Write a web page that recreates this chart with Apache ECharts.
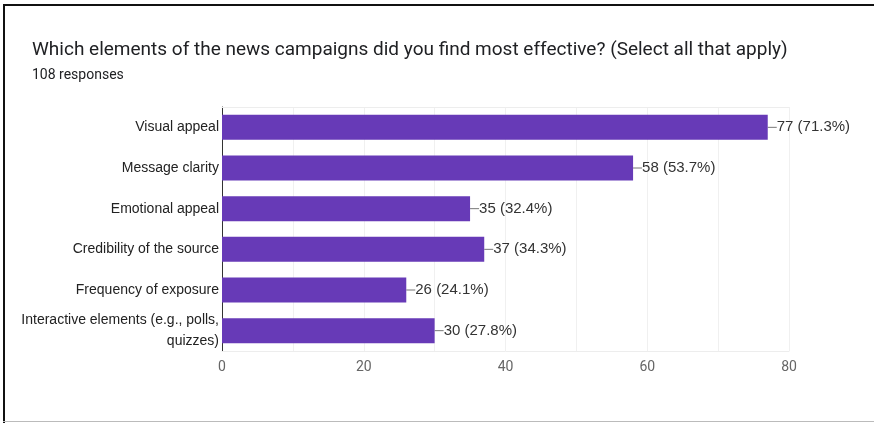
<!DOCTYPE html>
<html>
<head>
<meta charset="utf-8">
<style>
html,body{margin:0;padding:0;background:#fff;}
#chart{width:874px;height:423px;}
</style>
<script src="https://cdn.jsdelivr.net/npm/echarts@6/dist/echarts.min.js"></script>
</head>
<body>
<div id="chart"></div>
<script>
var categories = [
  "Visual appeal",
  "Message clarity",
  "Emotional appeal",
  "Credibility of the source",
  "Frequency of exposure",
  "Interactive elements (e.g., polls,\nquizzes)"
];
var counts = [77, 58, 35, 37, 26, 30];
var percents = ["71.3%", "53.7%", "32.4%", "34.3%", "24.1%", "27.8%"];
var titleText = "Which elements of the news campaigns did you find most effective? (Select all that apply)";
var subtitleText = "108 responses";

var chart = echarts.init(document.getElementById('chart'));
var font = 'Roboto, Arial, sans-serif';
var font2 = '"Liberation Sans", Arial, sans-serif';
chart.setOption({
  animation: false,
  backgroundColor: '#ffffff',
  textStyle: {fontFamily: font},
  title: {
    text: titleText,
    subtext: subtitleText,
    left: 27,
    top: 36,
    itemGap: 8,
    textStyle: {fontFamily: font, fontSize: 19, fontWeight: 'normal', color: '#202124'},
    subtextStyle: {fontFamily: font, fontSize: 14, color: '#202124'}
  },
  graphic: [
    {type: 'rect', shape: {x: 3, y: 4, width: 871, height: 2}, style: {fill: '#111'}},
    {type: 'rect', shape: {x: 3, y: 4, width: 2, height: 419}, style: {fill: '#111'}},
    {type: 'rect', shape: {x: 3, y: 421, width: 871, height: 1}, style: {fill: '#bbb'}}
  ],
  grid: {left: 222, right: 85, top: 107, bottom: 72, containLabel: false},
  xAxis: [{
    type: 'value',
    min: 0, max: 80, interval: 10,
    axisLine: {show: true, lineStyle: {color: '#ededed'}},
    axisTick: {show: false},
    splitLine: {show: true, lineStyle: {color: '#f0f0f0', width: 1}},
    axisLabel: {
      fontFamily: font, fontSize: 14, color: '#666', margin: 9,
      formatter: function (v) { return v % 20 === 0 ? String(v) : ''; }
    }
  }, {
    type: 'value', position: 'top',
    min: 0, max: 80, interval: 10,
    axisLine: {show: true, lineStyle: {color: '#ededed'}},
    axisTick: {show: false}, axisLabel: {show: false}, splitLine: {show: false}
  }],
  yAxis: {
    type: 'category',
    data: categories,
    inverse: true,
    axisLine: {show: true, lineStyle: {color: '#333', width: 1}},
    axisTick: {show: false},
    splitLine: {show: false},
    axisLabel: {fontFamily: font2, fontSize: 14, color: '#222', margin: 3, lineHeight: 21, align: 'right'}
  },
  series: [{
    type: 'bar',
    data: counts,
    barWidth: 25,
    itemStyle: {color: '#673ab7'},
    label: {
      show: true,
      position: 'right',
      distance: 9,
      fontFamily: font2,
      fontSize: 15,
      color: '#333',
      formatter: function (p) { return p.value + ' (' + percents[p.dataIndex] + ')'; }
    },
    labelLine: {show: true, lineStyle: {color: '#777', width: 1}},
    labelLayout: {moveOverlap: false}
  }]
});
</script>
</body>
</html>
